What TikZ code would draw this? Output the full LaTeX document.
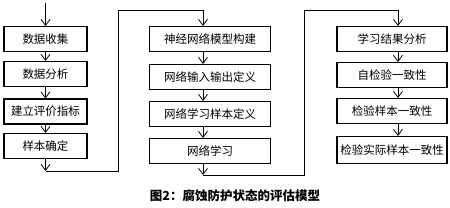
\documentclass[tikz,border=0pt]{standalone}
\usepackage{fontspec}
\setmainfont{Noto Sans CJK SC}
\usetikzlibrary{arrows.meta}

\begin{document}
\begin{tikzpicture}[x=1pt, y=-1pt, >={Straight Barb[length=6pt,width=9pt]},
    box/.style={draw, line width=1.1pt, inner sep=0pt, minimum height=25pt,
        font=\fontsize{11.5}{12}\selectfont},
    link/.style={->, line width=0.8pt}]
    \useasboundingbox (0,0) rectangle (450,208);

    % 第一列
    \node[box, minimum width=83pt] (a1) at (45.5, 39) {数据收集};
    \node[box, minimum width=83pt] (a2) at (45.5, 74) {数据分析};
    \node[box, minimum width=83pt] (a3) at (45.5, 111.5) {建立评价指标};
    \node[box, minimum width=83pt] (a4) at (45.5, 146) {样本确定};
    \coordinate (ain) at (45.5, 3);
    \coordinate (aout) at (45.5, 171);
    \coordinate (aturn) at (118, 10);

    % 第二列
    \node[box, minimum width=121pt] (b1) at (210, 39) {神经网络模型构建};
    \node[box, minimum width=121pt] (b2) at (210, 77) {网络输入输出定义};
    \node[box, minimum width=121pt] (b3) at (210, 114) {网络学习样本定义};
    \node[box, minimum width=121pt] (b4) at (210, 151) {网络学习};
    \coordinate (bout) at (203, 175);
    \coordinate (bturn) at (304, 10);

    % 第三列
    \node[box, minimum width=110pt] (c1) at (392, 39) {学习结果分析};
    \node[box, minimum width=110pt] (c2) at (392, 75) {自检验一致性};
    \node[box, minimum width=110pt] (c3) at (392, 111) {检验样本一致性};
    \node[box, minimum width=110pt, minimum height=27pt] (c4) at (392, 150) {检验实际样本一致性};

    % 箭头
    \draw[link] (ain) -- (a1);
    \foreach \i/\j in {1/2, 2/3, 3/4} {
        \draw[link] (a\i) -- (a\j);
        \draw[link] ([xshift=-7pt]b\i.south) -- ([xshift=-7pt]b\j.north);
        \draw[link] ([xshift=6pt]c\i.south) -- ([xshift=6pt]c\j.north);
    }
    \draw[link] (a4) -- (aout);
    \draw[link] (aout) -| (aturn) -| ([xshift=-7pt]b1.north);
    \draw[link] ([xshift=-7pt]b4.south) -- (bout);
    \draw[link] (bout) -| (bturn) -| ([xshift=6pt]c1.north);

    % 图题
    \node[font=\fontsize{12.5}{13}\selectfont\bfseries] (title) at (235, 196) {图2：腐蚀防护状态的评估模型};
\end{tikzpicture}
\end{document}
